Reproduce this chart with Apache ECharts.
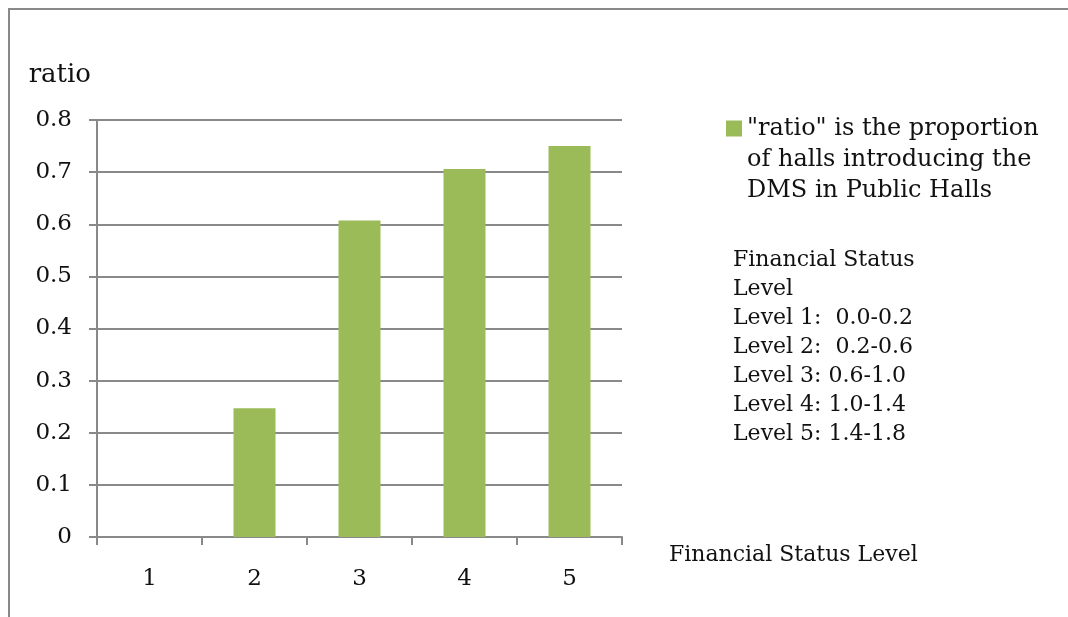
<!DOCTYPE html>
<html>
<head>
<meta charset="utf-8">
<script src="https://cdn.jsdelivr.net/npm/echarts@6/dist/echarts.min.js"></script>
<style>
  html, body { margin: 0; padding: 0; background: #ffffff; }
  #chart { width: 1068px; height: 617px; }
</style>
</head>
<body>
<div id="chart"></div>
<script>
// Financial status levels and the share of halls that introduced the DMS
const categories = ['1', '2', '3', '4', '5'];
const ratioValues = [0, 0.247, 0.607, 0.706, 0.75];
const seriesName = '"ratio" is the proportion\nof halls introducing the\nDMS in Public Halls';
const levelNotes = [
  'Financial Status',
  'Level',
  'Level 1:  0.0-0.2',
  'Level 2:  0.2-0.6',
  'Level 3: 0.6-1.0',
  'Level 4: 1.0-1.4',
  'Level 5: 1.4-1.8'
];

const FONT = 'DejaVu Serif';
const GRAY = '#898989';
const TXT = '#111111';

const chart = echarts.init(document.getElementById('chart'), null, { renderer: 'canvas' });

chart.setOption({
  backgroundColor: '#ffffff',
  animation: false,
  grid: { left: 97, right: 446, top: 120, bottom: 80, containLabel: false },
  legend: {
    left: 726,
    top: 51,
    padding: 0,
    itemWidth: 16,
    itemHeight: 16,
    icon: 'rect',
    data: [seriesName],
    // two blank lines on top keep the first text line level with the swatch
    formatter: name => '\n\n' + name,
    textStyle: {
      fontFamily: FONT, fontSize: 24, color: TXT,
      lineHeight: 31
    }
  },
  xAxis: {
    type: 'category',
    data: categories,
    name: 'Financial Status Level',
    nameLocation: 'end',
    nameGap: 47,
    nameTextStyle: {
      fontFamily: FONT, fontSize: 22, color: TXT,
      align: 'left', verticalAlign: 'top',
      lineHeight: 36
    },
    axisLine: { show: true, lineStyle: { color: GRAY, width: 2 } },
    axisTick: { show: true, interval: 0, length: 8, lineStyle: { color: GRAY, width: 2 } },
    axisLabel: { fontFamily: FONT, fontSize: 23, color: TXT, margin: 31 },
    splitLine: { show: false }
  },
  yAxis: {
    type: 'value',
    min: 0,
    max: 0.8,
    interval: 0.1,
    name: 'ratio',
    nameLocation: 'end',
    nameGap: 45,
    nameTextStyle: {
      fontFamily: FONT, fontSize: 26, color: TXT,
      align: 'right', verticalAlign: 'middle',
      padding: [0, 6, 0, 0]
    },
    axisLine: { show: true, lineStyle: { color: GRAY, width: 2 } },
    axisTick: { show: true, length: 8, lineStyle: { color: GRAY, width: 2 } },
    axisLabel: {
      fontFamily: FONT, fontSize: 23, color: TXT, margin: 25,
      formatter: v => (v === 0 ? '0' : v.toFixed(1))
    },
    splitLine: { show: true, lineStyle: { color: GRAY, width: 2 } }
  },
  series: [{
    name: seriesName,
    type: 'bar',
    data: ratioValues,
    barCategoryGap: '60%',
    itemStyle: { color: '#9BBB59' }
  }],
  graphic: [
    {
      // outer chart frame
      type: 'rect',
      silent: true,
      shape: { x: 9, y: 9, width: 1100, height: 700 },
      style: { fill: 'none', stroke: GRAY, lineWidth: 2 }
    },
    {
      type: 'text',
      left: 733,
      top: 246,
      silent: true,
      style: {
        text: levelNotes.join('\n'),
        fontFamily: FONT, fontSize: 22, fill: TXT,
        lineHeight: 29
      }
    }
  ]
});
</script>
</body>
</html>
